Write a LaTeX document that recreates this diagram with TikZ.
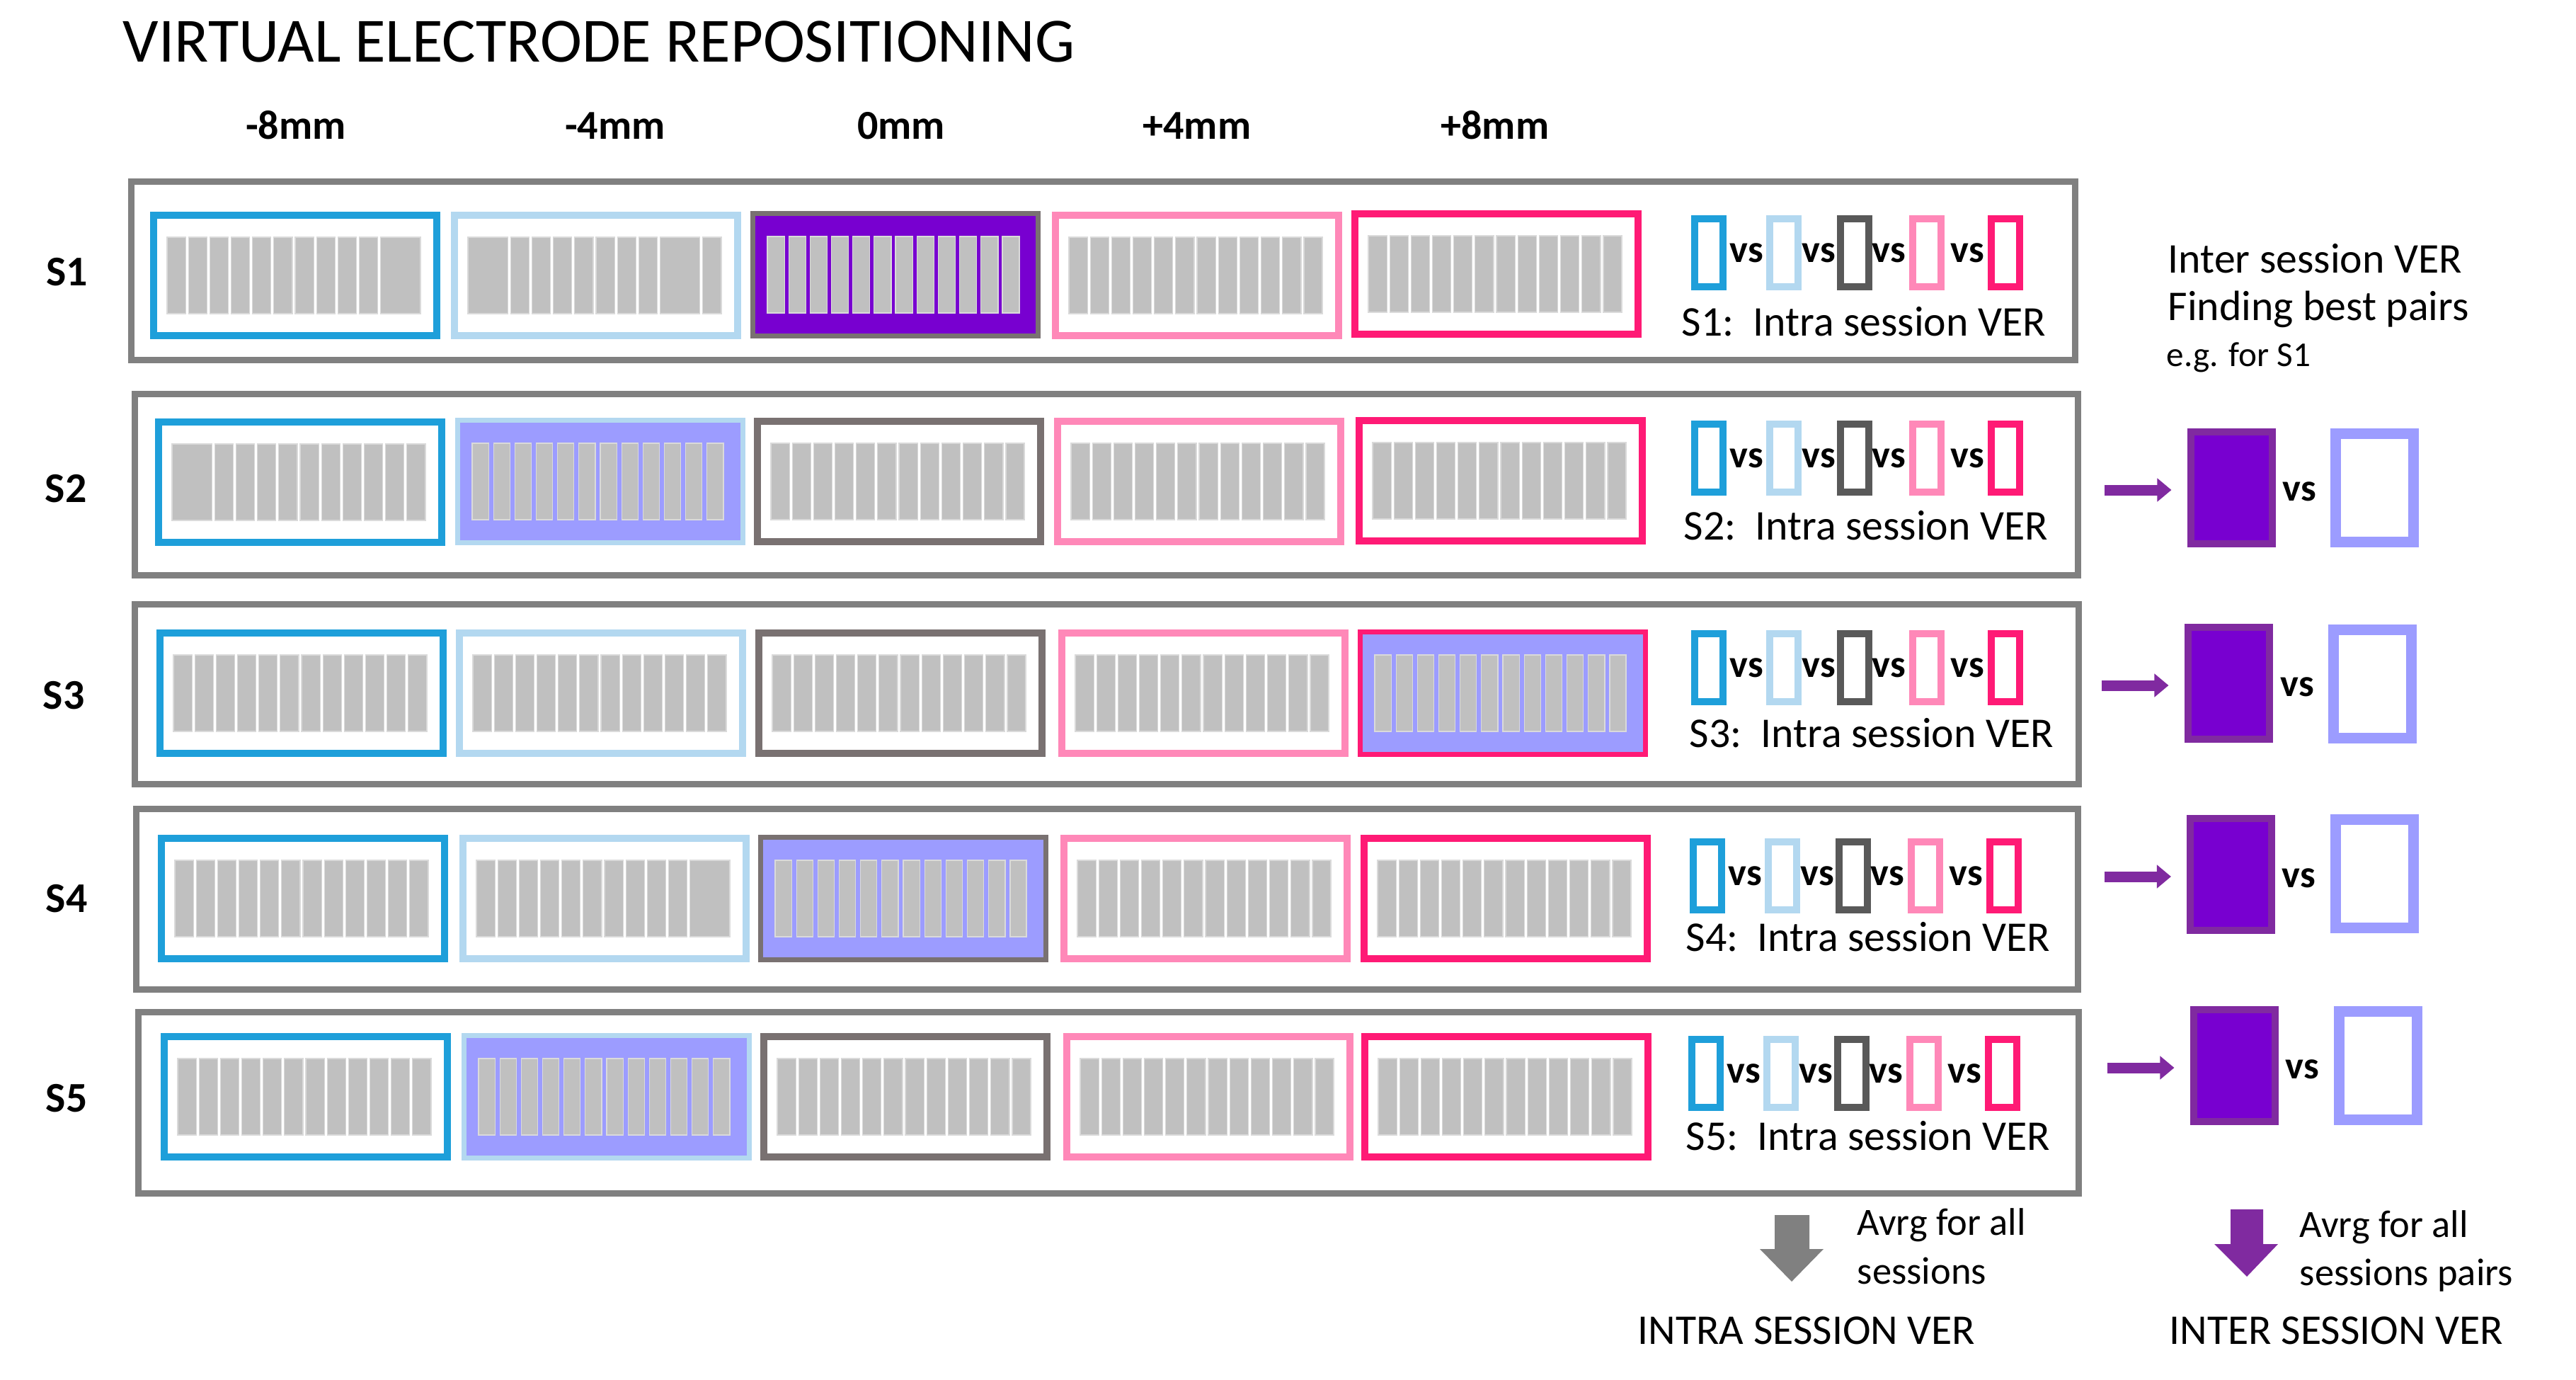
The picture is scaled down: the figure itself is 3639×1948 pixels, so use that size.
\documentclass[tikz,border=0pt]{standalone}
\usepackage{fontspec}
\setmainfont{Carlito}
\usetikzlibrary{calc,arrows.meta}
\definecolor{cBlue}{RGB}{30,159,218}
\definecolor{cLBlue}{RGB}{179,216,240}
\definecolor{cMid}{RGB}{121,113,113}
\definecolor{cDark}{RGB}{89,89,89}
\definecolor{cPink}{RGB}{255,136,184}
\definecolor{cHot}{RGB}{255,26,117}
\definecolor{cOuter}{RGB}{128,128,128}
\definecolor{cLav}{RGB}{156,156,255}
\definecolor{cDeep}{RGB}{120,0,208}
\definecolor{cArrow}{RGB}{128,42,160}
\definecolor{cBar}{RGB}{192,192,192}
\definecolor{cBarEdge}{RGB}{218,218,218}
\newcommand\barset[3]{%
  \gdef\bpos{0}%
  \foreach \w in {#2}{%
    \pgfmathsetmacro\bend{\bpos+\w}%
    \filldraw[fill=cBar,draw=cBarEdge,line width=0.35pt]
      ($(#1.center)+({-181+\bpos*30.17},-54)$) rectangle ($(#1.center)+({-181+\bend*30.17-#3},54)$);
    \xdef\bpos{\bend}%
  }%
}
\newcommand\ebox[6]{%
  \node[#4] (#1) at (#2,#3) {};
  \barset{#1}{#5}{#6}%
}
\begin{document}
\begin{tikzpicture}[x=0.01cm,y=-0.01cm,
  eb/.style={rectangle,inner sep=0,minimum width=4cm,minimum height=1.69cm,line width=0.1cm,fill=white},
  ebsel/.style={rectangle,inner sep=0,minimum width=4.03cm,minimum height=1.72cm,line width=0.07cm,fill=cLav},
  rowbox/.style={rectangle,inner sep=0,draw=cOuter,line width=0.09cm},
  icon/.style={rectangle,inner sep=0,minimum width=0.40cm,minimum height=0.96cm,line width=0.1cm,fill=white},
  pbox/.style={rectangle,inner sep=0,minimum width=1.15cm,minimum height=1.58cm,line width=0.1cm,draw=cArrow,fill=cDeep},
  lbox/.style={rectangle,inner sep=0,minimum width=1.10cm,minimum height=1.52cm,line width=0.15cm,draw=cLav,fill=white},
  vstxt/.style={inner sep=0,font=\fontsize{15.5}{18}\selectfont\bfseries},
  intra/.style={inner sep=0,anchor=base west,font=\fontsize{17}{20}\selectfont},
  rowlab/.style={inner sep=0,anchor=base,font=\fontsize{17}{20}\selectfont\bfseries},
  collab/.style={inner sep=0,anchor=base,font=\fontsize{16.5}{20}\selectfont\bfseries},
  txt/.style={inner sep=0,anchor=base west,font=\fontsize{17}{20}\selectfont},
  parrow/.style={draw=cArrow,line width=0.15cm,-{Triangle[width=0.32cm,length=0.2cm]}}
]
\useasboundingbox (0,0) rectangle (3639,1948);

% title and column labels
\node[inner sep=0,anchor=base west,font=\fontsize{25.3}{30}\selectfont] (title) at (173,87) {VIRTUAL ELECTRODE REPOSITIONING};
\node[collab] (cm8) at (418,196) {-8mm};
\node[collab] (cm4) at (869,196) {-4mm};
\node[collab] (c0) at (1273,196) {0mm};
\node[collab] (cp4) at (1691,196) {+4mm};
\node[collab] (cp8) at (2112,196) {+8mm};

% row boxes
\node[rowbox,minimum width=27.45cm,minimum height=2.51cm] (r1) at (1558.5,382.5) {};
\node[rowbox,minimum width=27.44cm,minimum height=2.55cm] (r2) at (1563,684.5) {};
\node[rowbox,minimum width=27.45cm,minimum height=2.53cm] (r3) at (1563.5,980.5) {};
\node[rowbox,minimum width=27.42cm,minimum height=2.54cm] (r4) at (1564,1270) {};
\node[rowbox,minimum width=27.40cm,minimum height=2.55cm] (r5) at (1566,1557.5) {};

% row labels
\node[rowlab] (l1) at (95,403) {S1};
\node[rowlab] (l2) at (93,709) {S2};
\node[rowlab] (l3) at (90,1001) {S3};
\node[rowlab] (l4) at (94,1288) {S4};
\node[rowlab] (l5) at (94,1570) {S5};

% electrode boxes row 1
\ebox{e11}{417}{389}{eb,draw=cBlue}{1,1,1,1,1,1,1,1,1,1,2}{4}
\ebox{e12}{842}{389}{eb,draw=cLBlue}{2,1,1,1,1,1,1,1,2,1}{4}
\ebox{e13}{1265}{388}{ebsel,draw=cMid,fill=cDeep}{1,1,1,1,1,1,1,1,1,1,1,1}{6}
\ebox{e14}{1691}{389}{eb,draw=cPink}{1,1,1,1,1,1,1,1,1,1,1,1}{4}
\ebox{e15}{2114}{387}{eb,draw=cHot}{1,1,1,1,1,1,1,1,1,1,1,1}{4}
% row 2
\ebox{e21}{424}{681}{eb,draw=cBlue}{2,1,1,1,1,1,1,1,1,1,1}{4}
\ebox{e22}{848}{680}{ebsel,draw=cLBlue}{1,1,1,1,1,1,1,1,1,1,1,1}{7}
\ebox{e23}{1270}{680}{eb,draw=cMid}{1,1,1,1,1,1,1,1,1,1,1,1}{4}
\ebox{e24}{1694}{680}{eb,draw=cPink}{1,1,1,1,1,1,1,1,1,1,1,1}{4}
\ebox{e25}{2120}{679}{eb,draw=cHot}{1,1,1,1,1,1,1,1,1,1,1,1}{4}
% row 3
\ebox{e31}{426}{979}{eb,draw=cBlue}{1,1,1,1,1,1,1,1,1,1,1,1}{4}
\ebox{e32}{849}{979}{eb,draw=cLBlue}{1,1,1,1,1,1,1,1,1,1,1,1}{4}
\ebox{e33}{1272}{979}{eb,draw=cMid}{1,1,1,1,1,1,1,1,1,1,1,1}{4}
\ebox{e34}{1700}{979}{eb,draw=cPink}{1,1,1,1,1,1,1,1,1,1,1,1}{4}
\ebox{e35}{2123}{979}{ebsel,draw=cHot}{1,1,1,1,1,1,1,1,1,1,1,1}{7}
% row 4
\ebox{e41}{428}{1269}{eb,draw=cBlue}{1,1,1,1,1,1,1,1,1,1,1,1}{4}
\ebox{e42}{854}{1269}{eb,draw=cLBlue}{1,1,1,1,1,1,1,1,1,1,2}{4}
\ebox{e43}{1276}{1269}{ebsel,draw=cMid}{1,1,1,1,1,1,1,1,1,1,1,1}{7}
\ebox{e44}{1703}{1269}{eb,draw=cPink}{1,1,1,1,1,1,1,1,1,1,1,1}{4}
\ebox{e45}{2127}{1269}{eb,draw=cHot}{1,1,1,1,1,1,1,1,1,1,1,1}{4}
% row 5
\ebox{e51}{432}{1549}{eb,draw=cBlue}{1,1,1,1,1,1,1,1,1,1,1,1}{4}
\ebox{e52}{857}{1549}{ebsel,draw=cLBlue}{1,1,1,1,1,1,1,1,1,1,1,1}{7}
\ebox{e53}{1279}{1549}{eb,draw=cMid}{1,1,1,1,1,1,1,1,1,1,1,1}{4}
\ebox{e54}{1707}{1549}{eb,draw=cPink}{1,1,1,1,1,1,1,1,1,1,1,1}{4}
\ebox{e55}{2128}{1549}{eb,draw=cHot}{1,1,1,1,1,1,1,1,1,1,1,1}{4}

% vs icons per row
\foreach \r/\y/\dx/\ly/\lx in {1/357/0/474/2375, 2/647/0/762/2378, 3/943/0/1055/2386, 4/1237/-2/1343/2381, 5/1516/-4/1624/2381}{
  \node[icon,draw=cBlue]  (i\r a) at (2414+\dx,\y) {};
  \node[icon,draw=cLBlue] (i\r b) at (2520+\dx,\y) {};
  \node[icon,draw=cDark]  (i\r c) at (2620+\dx,\y) {};
  \node[icon,draw=cPink]  (i\r d) at (2722+\dx,\y) {};
  \node[icon,draw=cHot]   (i\r e) at (2833+\dx,\y) {};
  \node[vstxt] (v\r a) at (2467+\dx,\y) {vs};
  \node[vstxt] (v\r b) at (2569+\dx,\y) {vs};
  \node[vstxt] (v\r c) at (2668+\dx,\y) {vs};
  \node[vstxt] (v\r d) at (2779+\dx,\y) {vs};
  \node[intra] (t\r) at (\lx,\ly) {S\r:\ \ Intra session VER};
}

% inter session header
\node[txt] (h1) at (3062,385) {Inter session VER};
\node[txt] (h2) at (3062,452) {Finding best pairs};
\node[txt,font=\fontsize{14}{16}\selectfont] (h3) at (3060,517) {e.g. for S1};

% inter session pairs
\foreach \r/\px/\py/\qx/\qy/\vx/\vy in {2/3152/689/3354/689/3248/694, 3/3148/965/3351/966/3245/970, 4/3151.5/1235/3354.5/1234/3247/1240, 5/3156/1505/3359/1505/3252/1510}{
  \node[pbox] (p\r) at (\px,\py) {};
  \node[lbox] (q\r) at (\qx,\qy) {};
  \node[vstxt] (w\r) at (\vx,\vy) {vs};
  \draw[parrow] ([xshift=-1.16cm,yshift=-0.03cm]p\r.west) -- ([xshift=-0.22cm,yshift=-0.03cm]p\r.west);
}

% down arrows
\fill[cOuter] (2507,1716) -- (2556,1716) -- (2556,1764) -- (2576,1764) -- (2531,1810) -- (2486,1764) -- (2507,1764) -- cycle;
\fill[cArrow] (3151,1708) -- (3197,1708) -- (3197,1757) -- (3218,1757) -- (3174,1803) -- (3128,1757) -- (3151,1757) -- cycle;

% bottom texts
\node[txt,font=\fontsize{15.5}{18}\selectfont] (a1) at (2623,1744) {Avrg for all};
\node[txt,font=\fontsize{15.5}{18}\selectfont] (a2) at (2623,1813) {sessions};
\node[txt,font=\fontsize{15.5}{18}\selectfont] (b1) at (3248,1747) {Avrg for all};
\node[txt,font=\fontsize{15.5}{18}\selectfont] (b2) at (3248,1815) {sessions pairs};
\node[txt] (f1) at (2313,1898) {INTRA SESSION VER};
\node[txt] (f2) at (3064,1898) {INTER SESSION VER};
\end{tikzpicture}
\end{document}
